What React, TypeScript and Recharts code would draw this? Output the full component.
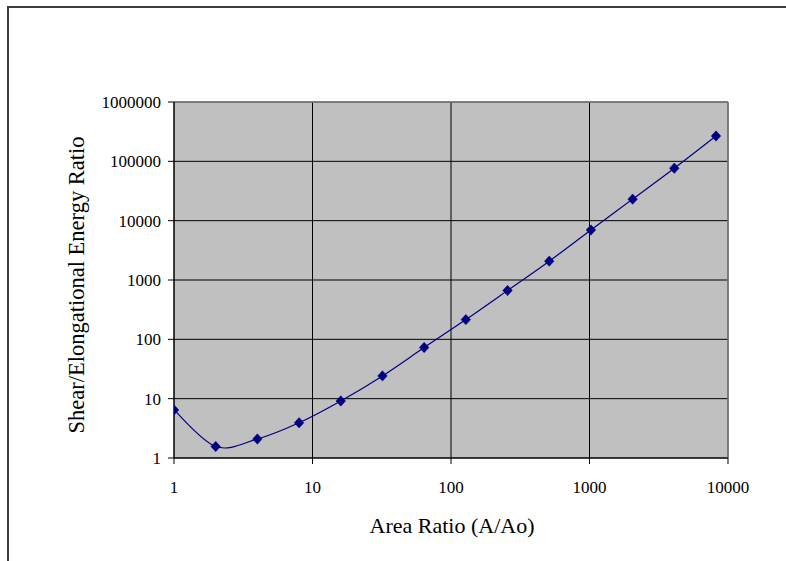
import React from 'react';
import { LineChart, Line, XAxis, YAxis, CartesianGrid, ReferenceLine, Label } from 'recharts';

const X_VALUES = [1, 2, 4, 8, 16, 32, 64, 128, 256, 512, 1024, 2048, 4096, 8192];
const Y_VALUES = [6.44, 1.56, 2.09, 3.92, 9.15, 24.2, 72.7, 215, 665, 2078, 6966, 23070, 76500, 267000];
const X_TICKS = [1, 10, 100, 1000, 10000];
const Y_TICKS = [1, 10, 100, 1000, 10000, 100000, 1000000];
const X_TITLE = 'Area Ratio (A/Ao)';
const Y_TITLE = 'Shear/Elongational Energy Ratio';

const data = X_VALUES.map((x, i) => ({ x, y: Y_VALUES[i] }));

const FONT = '"Liberation Serif", "Times New Roman", serif';

// Excel-like smoothed line (Catmull-Rom style bezier)
const smoothCurve: any = (context: any) => {
  let pts: number[][] = [];
  return {
    areaStart() {},
    areaEnd() {},
    lineStart() {
      pts = [];
    },
    point(x: number, y: number) {
      pts.push([+x, +y]);
    },
    lineEnd() {
      if (!pts.length) return;
      context.moveTo(pts[0][0], pts[0][1]);
      for (let i = 0; i < pts.length - 1; i++) {
        const p0 = pts[i - 1] || pts[i];
        const p1 = pts[i];
        const p2 = pts[i + 1];
        const p3 = pts[i + 2] || p2;
        const c1x = p1[0] + (p2[0] - p0[0]) / 6;
        const c1y = p1[1] + (p2[1] - p0[1]) / 6;
        const c2x = p2[0] - (p3[0] - p1[0]) / 6;
        const c2y = p2[1] - (p3[1] - p1[1]) / 6;
        context.bezierCurveTo(c1x, c1y, c2x, c2y, p2[0], p2[1]);
      }
    },
  };
};

const Diamond = (props: any) => {
  const { cx, cy, index } = props;
  if (cx == null || cy == null) return <g key={`d-${index}`} />;
  const w = 4.8;
  const h = 5.2;
  return (
    <path
      key={`d-${index}`}
      d={`M${cx},${cy - h}L${cx + w},${cy}L${cx},${cy + h}L${cx - w},${cy}Z`}
      fill="#000080"
      stroke="#000080"
      strokeWidth={0.5}
    />
  );
};

const XTitle = (props: any) => {
  const vb = props.viewBox || {};
  return (
    <text x={vb.x + vb.width / 2 + 1} y={533} textAnchor="middle" fontSize={22} fontFamily={FONT} fill="#000">
      {X_TITLE}
    </text>
  );
};

const YTitle = (props: any) => {
  const cy = 285;
  const x = 84;
  return (
    <text
      x={x}
      y={cy}
      transform={`rotate(-90, ${x}, ${cy})`}
      textAnchor="middle"
      fontSize={22.5}
      fontFamily={FONT}
      fill="#000"
    >
      {Y_TITLE}
    </text>
  );
};

export default function App() {
  return (
    <div style={{ position: 'fixed', left: 0, top: 0, width: 786, height: 561, overflow: 'hidden', background: '#fff' }}>
      <div
        style={{
          position: 'absolute',
          left: 7,
          top: 6,
          width: 820,
          height: 620,
          borderTop: '2px solid #3c3c3c',
          borderLeft: '2px solid #3c3c3c',
          boxSizing: 'border-box',
        }}
      />
      <div style={{ position: 'absolute', left: 0, top: 0 }}>
        <LineChart
          width={786}
          height={561}
          data={data}
          margin={{ top: 102, right: 58, bottom: 0, left: 74 }}
          style={{ fontFamily: FONT }}
        >
          <CartesianGrid stroke="#000" strokeWidth={1} fill="#C0C0C0" fillOpacity={1} />
          <XAxis
            dataKey="x"
            type="number"
            scale="log"
            domain={[1, 10000]}
            ticks={X_TICKS}
            allowDataOverflow
            height={103}
            tickSize={6}
            tickMargin={17}
            axisLine={{ stroke: '#000', strokeWidth: 1 }}
            tickLine={{ stroke: '#000' }}
            tick={{ fill: '#000', fontSize: 17, fontFamily: FONT }}
            interval={0}
          >
            <Label content={<XTitle />} />
          </XAxis>
          <YAxis
            type="number"
            scale="log"
            domain={[1, 1000000]}
            ticks={Y_TICKS}
            allowDataOverflow
            width={100}
            tickSize={6}
            tickMargin={7}
            axisLine={{ stroke: '#000', strokeWidth: 1 }}
            tickLine={{ stroke: '#000' }}
            tick={{ fill: '#000', fontSize: 17, fontFamily: FONT }}
            interval={0}
          >
            <Label content={<YTitle />} />
          </YAxis>
          <ReferenceLine y={1000000} stroke="#808080" strokeWidth={1.5} />
          <ReferenceLine x={10000} stroke="#808080" strokeWidth={1.5} />
          <Line
            dataKey="y"
            type={smoothCurve}
            stroke="#000080"
            strokeWidth={1.2}
            dot={Diamond}
            activeDot={false}
            isAnimationActive={false}
          />
        </LineChart>
      </div>
    </div>
  );
}
